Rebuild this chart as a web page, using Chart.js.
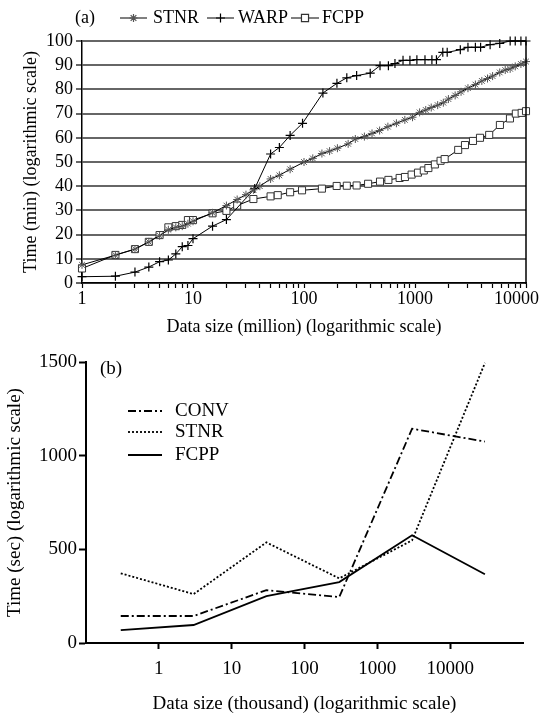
<!DOCTYPE html>
<html><head><meta charset="utf-8">
<script src="https://cdn.jsdelivr.net/npm/chart.js@4/dist/chart.umd.min.js"></script>
<style>html,body{margin:0;padding:0;background:#fff;}canvas{display:block;}</style>
</head><body>
<canvas id="ca" width="540" height="340"></canvas>
<canvas id="cb" width="540" height="375"></canvas>
<script>
// ---------- chart (a) data ----------
const stnrSize = [1,2,3,4,5,6,7,8,9,10,15,20,25,30,35,40,50,60,75,100,120,145,170,200,250,290,350,410,480,570,680,810,950,1100,1250,1400,1600,1800,2000,2300,2600,3000,3500,4000,4500,5000,5800,6500,7200,8000,9000,10000];
const stnrTime = [7.5,11.5,14,17,19.5,22,23,23.5,24.5,25.5,29,32,34.5,36.5,38.5,40,43,44.5,47,50,51.5,53.5,54.5,55.7,57.5,59.5,60.5,61.8,63,64.6,66,67.4,68.5,70.5,71.5,72.5,73.5,74.5,76,77.5,79,80.5,82,83.5,84.5,85.5,87,88,88.5,89.5,90.5,91.5];
const warpSize = [1,2,3,4,5,6,7,8,9,10,15,20,36,50,60,75,97,148,198,243,298,395,484,576,660,780,900,1040,1230,1420,1560,1780,1950,2560,3000,3500,3900,4750,5800,7200,8000,9000,10000];
const warpTime = [2.6,2.8,4.5,6.6,8.8,9.5,12,15,15.5,18.3,23.5,26.2,39,53.3,56,61,66,78.5,82.5,84.8,85.7,86.7,89.8,89.8,90.7,92,92,92.3,92.3,92.3,92.3,95.3,95.3,96.4,97.4,97.4,97.4,98.5,99,100,100,100,100];
const fcppSize = [1,2,3,4,5,6,7,8,9,10,15,20,25,35,50,58,75,96,145,197,243,298,378,484,576,727,812,932,1064,1200,1320,1510,1700,1850,2450,2820,3330,3850,4660,5820,7170,8100,9140,10000];
const fcppTime = [6,11.6,14,17,19.8,23,23.5,24,26,26,28.8,29.8,32,34.7,35.8,36.3,37.5,38.3,39,40.1,40.2,40.3,41,41.9,42.6,43.4,43.8,44.8,45.6,46.5,47.5,49,50.5,51.2,55,57,58.7,60,61.2,65.3,68,70,70.3,71];
const aXTicks = [1,2,3,4,5,6,7,8,9,10,20,30,40,50,60,70,80,90,100,200,300,400,500,600,700,800,900,1000,2000,3000,4000,5000,6000,7000,8000,9000,10000];
const aXLabels = [1,10,100,1000,10000];

// ---------- chart (b) data ----------
const bSize = [0.3,3,30,300,3000,30000];
const bConv = [144,144,282,245,1144,1075];
const bStnr = [372,261,537,345,548,1495];
const bFcpp = [69,96,250,325,575,367];
const bXTicks = [1,10,100,1000,10000];

const SERIF = '"Liberation Serif","Times New Roman",serif';
Chart.defaults.font.family = SERIF;
Chart.defaults.color = '#000';

function pts(xs, ys){ return xs.map((x,i)=>({x:x, y:ys[i]})); }

function marker(ctx, style, x, y, r){
  ctx.beginPath();
  if (style === 'star') {
    for (let k=0;k<4;k++){ const a = k*Math.PI/4; ctx.moveTo(x-r*Math.cos(a), y-r*Math.sin(a)); ctx.lineTo(x+r*Math.cos(a), y+r*Math.sin(a)); }
    ctx.stroke();
  } else if (style === 'cross') {
    ctx.moveTo(x-r,y); ctx.lineTo(x+r,y); ctx.moveTo(x,y-r); ctx.lineTo(x,y+r); ctx.stroke();
  } else if (style === 'rect') {
    const s = r*Math.SQRT1_2; ctx.rect(x-s,y-s,2*s,2*s); ctx.fillStyle='#fff'; ctx.fill(); ctx.stroke();
  }
}

const legendA = {
  id:'legendA',
  beforeDraw(chart){
    const s = chart.scales.x;
    const items = s.getLabelItems();
    items.forEach(it=>{ if (it.label === '10000') { it.options.textAlign = 'right'; it.options.translation[0] = chart.width - 1; } });
  },
  afterDraw(chart){
    const ctx = chart.ctx, ca = chart.chartArea;
    ctx.save();
    ctx.strokeStyle = '#000'; ctx.lineWidth = 1.5;
    ctx.beginPath(); ctx.moveTo(ca.right, ca.top); ctx.lineTo(ca.right, ca.bottom+1); ctx.stroke();
    ctx.font = '18px ' + SERIF; ctx.fillStyle = '#000'; ctx.textBaseline = 'middle'; ctx.textAlign='left';
    ctx.fillText('(a)', 75, 18);
    const items = [
      {x0:120,x1:147,tx:153,text:'STNR',style:'star',color:'#555',r:4},
      {x0:207,x1:234,tx:238,text:'WARP',style:'cross',color:'#000',r:4.5},
      {x0:291,x1:319,tx:322,text:'FCPP',style:'rect',color:'#333',r:5}
    ];
    items.forEach(it=>{
      ctx.strokeStyle='#000'; ctx.lineWidth=1;
      ctx.beginPath(); ctx.moveTo(it.x0,18); ctx.lineTo(it.x1,18); ctx.stroke();
      ctx.strokeStyle=it.color; ctx.lineWidth=1.2;
      marker(ctx, it.style, (it.x0+it.x1)/2, 18, it.r);
      ctx.fillStyle='#000';
      ctx.fillText(it.text, it.tx, 18);
    });
    ctx.restore();
  }
};

new Chart(document.getElementById('ca'), {
  type:'line',
  data:{ datasets:[
    {label:'STNR', data:pts(stnrSize,stnrTime), borderColor:'#000', borderWidth:1, pointStyle:'star', pointRadius:4, pointBorderColor:'#555', pointBorderWidth:1, pointBackgroundColor:'#555', clip:false, tension:0},
    {label:'WARP', data:pts(warpSize,warpTime), borderColor:'#000', borderWidth:1, pointStyle:'cross', pointRadius:4.5, pointBorderColor:'#000', pointBorderWidth:1.2, clip:false, tension:0},
    {label:'FCPP', data:pts(fcppSize,fcppTime), borderColor:'#000', borderWidth:1, pointStyle:'rect', pointRadius:5, pointBorderColor:'#333', pointBackgroundColor:'#fff', pointBorderWidth:1, clip:false, tension:0}
  ]},
  options:{
    responsive:false, animation:false, devicePixelRatio:1,
    layout:{padding:{top:41,right:14,left:0,bottom:0}},
    plugins:{legend:{display:false}, tooltip:{enabled:false}},
    scales:{
      x:{ type:'logarithmic', min:1, max:10000,
        afterBuildTicks:(ax)=>{ ax.ticks = aXTicks.map(v=>({value:v})); },
        afterFit:(ax)=>{ ax.height = 57; ax.paddingLeft = 0; ax.paddingRight = 0; },
        ticks:{ autoSkip:false, maxRotation:0, minRotation:0, padding:0, font:{size:18}, color:'#000',
          callback:(v)=> aXLabels.includes(v) ? String(v) : '' },
        grid:{ drawOnChartArea:false, drawTicks:true, tickLength:5, tickColor:'#000', tickWidth:1.2 },
        border:{ display:true, color:'#000', width:1.5 },
        title:{ display:true, text:'Data size (million) (logarithmic scale)', font:{size:18}, color:'#000', padding:{top:0,bottom:2} }
      },
      y:{ type:'linear', min:0, max:100,
        afterFit:(ax)=>{ ax.width = 82; },
        ticks:{ stepSize:10, autoSkip:false, padding:3, font:{size:18}, color:'#000', callback:(v)=>String(v) },
        grid:{ color:'#666', lineWidth:2, drawTicks:true, tickLength:6, tickColor:'#000', tickWidth:1.2 },
        border:{ display:true, color:'#000', width:1.5 },
        title:{ display:true, text:'Time (min) (logarithmic scale)', font:{size:18}, color:'#000', padding:{top:20,bottom:0} }
      }
    }
  },
  plugins:[legendA]
});

const legendB = {
  id:'legendB',
  afterDraw(chart){
    const ctx = chart.ctx;
    ctx.save();
    ctx.font = '19px ' + SERIF; ctx.fillStyle='#000'; ctx.textBaseline='middle'; ctx.textAlign='left';
    ctx.fillText('(b)', 100, 29);
    const items = [
      {y:71, text:'CONV', dash:[8,3,2,3]},
      {y:92, text:'STNR', dash:[2,2]},
      {y:115, text:'FCPP', dash:[]}
    ];
    items.forEach(it=>{
      ctx.strokeStyle='#000'; ctx.lineWidth=1.8; ctx.setLineDash(it.dash);
      ctx.beginPath(); ctx.moveTo(128,it.y); ctx.lineTo(162,it.y); ctx.stroke();
      ctx.setLineDash([]);
      ctx.fillText(it.text, 175, it.y);
    });
    ctx.restore();
  }
};

new Chart(document.getElementById('cb'), {
  type:'line',
  data:{ datasets:[
    {label:'CONV', data:pts(bSize,bConv), borderColor:'#000', borderWidth:1.8, borderDash:[8,3,2,3], pointRadius:0, clip:false, tension:0},
    {label:'STNR', data:pts(bSize,bStnr), borderColor:'#000', borderWidth:1.8, borderDash:[2,2], pointRadius:0, clip:false, tension:0},
    {label:'FCPP', data:pts(bSize,bFcpp), borderColor:'#000', borderWidth:1.8, pointRadius:0, clip:false, tension:0}
  ]},
  options:{
    responsive:false, animation:false, devicePixelRatio:1,
    layout:{padding:{top:22,right:17,left:0,bottom:0}},
    plugins:{legend:{display:false}, tooltip:{enabled:false}},
    scales:{
      x:{ type:'logarithmic', min:0.1, max:100000,
        afterBuildTicks:(ax)=>{ ax.ticks = bXTicks.map(v=>({value:v})); },
        afterFit:(ax)=>{ ax.height = 72; ax.paddingLeft = 0; ax.paddingRight = 0; },
        ticks:{ autoSkip:false, maxRotation:0, minRotation:0, padding:9, font:{size:19}, color:'#000',
          callback:(v)=> String(v) },
        grid:{ drawOnChartArea:false, drawTicks:true, tickLength:6, tickColor:'#000', tickWidth:2 },
        border:{ display:true, color:'#000', width:2 },
        title:{ display:true, text:'Data size (thousand) (logarithmic scale)', font:{size:19}, color:'#000', padding:{top:0,bottom:0} }
      },
      y:{ type:'linear', min:0, max:1500,
        afterFit:(ax)=>{ ax.width = 86; },
        ticks:{ stepSize:500, autoSkip:false, padding:2, font:{size:19}, color:'#000', callback:(v)=>String(v) },
        grid:{ drawOnChartArea:false, drawTicks:true, tickLength:7, tickColor:'#000', tickWidth:2 },
        border:{ display:true, color:'#000', width:2 },
        title:{ display:true, text:'Time (sec) (logarithmic scale)', font:{size:19}, color:'#000', padding:{top:4,bottom:0} }
      }
    }
  },
  plugins:[legendB]
});
</script>
</body></html>
